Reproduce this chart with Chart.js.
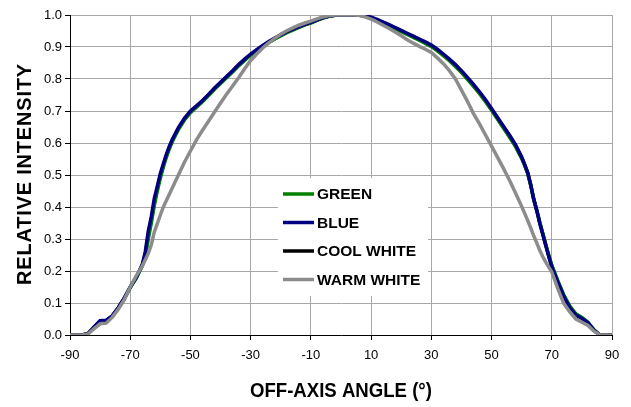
<!DOCTYPE html>
<html>
<head>
<meta charset="utf-8">
<script src="https://cdn.jsdelivr.net/npm/chart.js@4/dist/chart.umd.min.js"></script>
<style>
  body { margin: 0; background: #fff; }
</style>
</head>
<body>
<canvas id="grafico" width="631" height="407"></canvas>
<script>
const FONTE = '"Liberation Sans", Arial, sans-serif';

const angulos = [
  -90, -86, -84, -82, -80, -78, -76, -74, -72, -70,
  -68, -66, -65, -64, -63, -62, -61, -60, -59, -58,
  -57, -56, -54, -52, -50, -48, -46, -44, -42, -40,
  -38, -36, -34, -32, -30, -28, -26, -24, -22, -20,
  -18, -16, -14, -12, -10, -8, -6, -4, -2, 0,
  2, 4, 6, 8, 10, 12, 14, 16, 18, 20,
  22, 24, 26, 28, 30, 32, 34, 36, 38, 40,
  42, 44, 46, 48, 50, 52, 54, 56, 58, 60,
  61, 62, 63, 64, 65, 66, 67, 68, 69, 70,
  72, 74, 76, 78, 80, 82, 84, 86, 90
];

const verde = [
  0, 0, 0.004, 0.023, 0.043, 0.045, 0.058, 0.083, 0.113, 0.148,
  0.178, 0.215, 0.245, 0.3, 0.35, 0.405, 0.45, 0.49, 0.525, 0.556,
  0.582, 0.605, 0.642, 0.672, 0.695, 0.712, 0.729, 0.748, 0.768, 0.786,
  0.804, 0.822, 0.841, 0.858, 0.875, 0.889, 0.902, 0.914, 0.925, 0.935,
  0.945, 0.953, 0.961, 0.969, 0.975, 0.983, 0.99, 0.996, 0.999, 1.0,
  1.0, 1.0, 0.999, 0.997, 0.99, 0.983, 0.975, 0.966, 0.957, 0.948,
  0.939, 0.93, 0.921, 0.911, 0.901, 0.888, 0.873, 0.857, 0.839, 0.82,
  0.799, 0.777, 0.754, 0.729, 0.702, 0.674, 0.646, 0.618, 0.588, 0.552,
  0.53, 0.505, 0.468, 0.424, 0.39, 0.352, 0.318, 0.283, 0.25, 0.218,
  0.17, 0.125, 0.09, 0.066, 0.055, 0.04, 0.016, 0, 0
];

const azul = [
  0, 0, 0.005, 0.025, 0.045, 0.046, 0.06, 0.085, 0.115, 0.15,
  0.18, 0.22, 0.26, 0.325, 0.37, 0.427, 0.465, 0.505, 0.535, 0.565,
  0.59, 0.612, 0.648, 0.677, 0.70, 0.716, 0.733, 0.752, 0.772, 0.79,
  0.808, 0.826, 0.845, 0.862, 0.878, 0.892, 0.905, 0.917, 0.928, 0.938,
  0.948, 0.956, 0.964, 0.971, 0.977, 0.985, 0.992, 0.997, 0.999, 1.0,
  1.0, 1.0, 1.0, 0.999, 0.993, 0.986, 0.978, 0.97, 0.961, 0.952,
  0.943, 0.934, 0.925, 0.916, 0.906, 0.893, 0.878, 0.862, 0.845, 0.826,
  0.805, 0.783, 0.76, 0.735, 0.708, 0.68, 0.652, 0.624, 0.594, 0.556,
  0.533, 0.508, 0.47, 0.425, 0.39, 0.35, 0.315, 0.28, 0.245, 0.213,
  0.165, 0.12, 0.085, 0.062, 0.052, 0.038, 0.015, 0, 0
];

const brancoFrio = [
  0, 0, 0.004, 0.024, 0.044, 0.045, 0.059, 0.084, 0.114, 0.149,
  0.179, 0.218, 0.252, 0.312, 0.36, 0.415, 0.457, 0.497, 0.53, 0.56,
  0.586, 0.608, 0.645, 0.674, 0.697, 0.714, 0.731, 0.75, 0.77, 0.788,
  0.806, 0.824, 0.843, 0.86, 0.876, 0.89, 0.903, 0.915, 0.926, 0.936,
  0.946, 0.955, 0.962, 0.97, 0.976, 0.984, 0.991, 0.996, 0.999, 1.0,
  1.0, 1.0, 0.999, 0.998, 0.991, 0.984, 0.976, 0.968, 0.959, 0.95,
  0.941, 0.932, 0.923, 0.913, 0.903, 0.89, 0.875, 0.859, 0.842, 0.823,
  0.802, 0.78, 0.757, 0.732, 0.705, 0.677, 0.649, 0.621, 0.591, 0.554,
  0.531, 0.506, 0.469, 0.424, 0.39, 0.351, 0.316, 0.281, 0.247, 0.215,
  0.167, 0.122, 0.087, 0.064, 0.053, 0.039, 0.015, 0, 0
];

const brancoQuente = [
  0, 0, 0.003, 0.02, 0.035, 0.037, 0.055, 0.08, 0.11, 0.15,
  0.185, 0.215, 0.235, 0.255, 0.282, 0.322, 0.348, 0.375, 0.40, 0.42,
  0.44, 0.46, 0.50, 0.54, 0.575, 0.61, 0.64, 0.668, 0.697, 0.725,
  0.752, 0.778, 0.804, 0.832, 0.858, 0.878, 0.897, 0.913, 0.927, 0.94,
  0.951, 0.96, 0.968, 0.975, 0.981, 0.988, 0.994, 0.998, 1.0, 1.0,
  1.0, 1.0, 0.999, 0.994, 0.987, 0.978, 0.968, 0.958, 0.947, 0.935,
  0.923, 0.912, 0.902, 0.893, 0.883, 0.866, 0.848, 0.826, 0.80, 0.765,
  0.73, 0.692, 0.66, 0.625, 0.59, 0.555, 0.52, 0.483, 0.443, 0.402,
  0.38, 0.358, 0.335, 0.31, 0.288, 0.265, 0.245, 0.228, 0.212, 0.197,
  0.145, 0.098, 0.072, 0.05, 0.04, 0.03, 0.012, 0, 0
];

const xTicks = [-90, -70, -50, -30, -10, 10, 30, 50, 70, 90];

const series = [
  { nome: 'GREEN',      valores: verde,        cor: '#008000', ordem: 2 },
  { nome: 'BLUE',       valores: azul,         cor: '#000080', ordem: 1 },
  { nome: 'COOL WHITE', valores: brancoFrio,   cor: '#000000', ordem: 3 },
  { nome: 'WARM WHITE', valores: brancoQuente, cor: '#8c8c8c', ordem: 0 }
];

// legenda e títulos dos eixos desenhados à mão (estilo Excel)
const extras = {
  id: 'extras',
  afterDraw(chart) {
    const ctx = chart.ctx;
    ctx.save();

    // caixa da legenda
    ctx.fillStyle = '#fff';
    ctx.fillRect(278, 178, 150, 118);
    ctx.font = 'bold 15.5px ' + FONTE;
    ctx.textBaseline = 'middle';
    ctx.textAlign = 'left';
    chart.data.datasets.forEach((ds, i) => {
      const y = 194 + i * 28.5;
      ctx.strokeStyle = ds.borderColor;
      ctx.lineWidth = 3.5;
      ctx.beginPath();
      ctx.moveTo(283, y);
      ctx.lineTo(314, y);
      ctx.stroke();
      ctx.fillStyle = '#000';
      ctx.fillText(ds.label, 317, y + 1);
    });

    // título eixo X
    ctx.font = 'bold 20px ' + FONTE;
    ctx.textAlign = 'center';
    ctx.fillText('OFF-AXIS ANGLE (°)', 341, 391, 182);

    // título eixo Y
    ctx.translate(24, 174);
    ctx.rotate(-Math.PI / 2);
    ctx.letterSpacing = '0.8px';
    ctx.fillText('RELATIVE INTENSITY', 0, 1);
    ctx.restore();
  }
};

const ctx = document.getElementById('grafico').getContext('2d');
Chart.defaults.color = '#000';
Chart.defaults.font.family = FONTE;

new Chart(ctx, {
  type: 'line',
  data: {
    datasets: series.map(s => ({
      label: s.nome,
      data: angulos.map((a, i) => ({ x: a, y: s.valores[i] })),
      borderColor: s.cor,
      backgroundColor: s.cor,
      borderWidth: 3.5,
      pointRadius: 0,
      tension: 0,
      order: s.ordem
    }))
  },
  options: {
    responsive: false,
    animation: false,
    layout: { padding: { left: 0, right: 19, top: 15, bottom: 0 } },
    plugins: { legend: { display: false }, tooltip: { enabled: false } },
    scales: {
      x: {
        type: 'linear',
        min: -90,
        max: 90,
        afterBuildTicks: s => { s.ticks = xTicks.map(v => ({ value: v })); },
        afterFit: s => { s.height = 72; },
        ticks: { font: { size: 13 }, padding: 8, maxRotation: 0, autoSkip: false, callback: v => String(v) },
        grid: { color: '#a8a8a8', lineWidth: 1, tickLength: 5, tickColor: '#000' },
        border: { color: '#000', width: 1 }
      },
      y: {
        min: 0,
        max: 1,
        ticks: { stepSize: 0.1, font: { size: 13 }, padding: 3, callback: v => v.toFixed(1) },
        afterFit: s => { s.width = 70; },
        grid: { color: '#a8a8a8', lineWidth: 1, tickLength: 5, tickColor: '#000' },
        border: { color: '#000', width: 1 }
      }
    }
  },
  plugins: [extras]
});
</script>
</body>
</html>
